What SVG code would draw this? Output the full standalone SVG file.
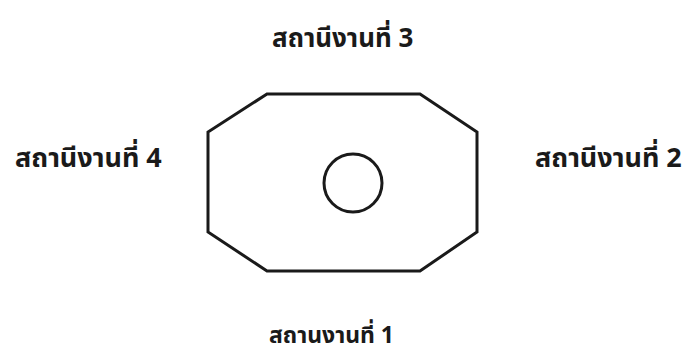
<svg xmlns="http://www.w3.org/2000/svg" width="691" height="354" viewBox="0 0 691 354">
<style>
.lbl{font-family:"Noto Sans Thai","Noto Sans","DejaVu Sans","Liberation Sans",sans-serif;font-size:26px;font-weight:bold;fill:#1a1a1a}
.side{font-size:27px}
.low{font-size:23px}
.shp{fill:none;stroke:#1a1a1a;stroke-width:3;stroke-linejoin:miter}
</style>
<rect width="691" height="354" fill="#ffffff"/>
<g id="station-3"><text class="lbl" x="272" y="47">สถานีงานที่ 3</text></g>
<g id="station-4"><text class="lbl side" x="15" y="167">สถานีงานที่ 4</text></g>
<g id="station-2"><text class="lbl side" x="535" y="167">สถานีงานที่ 2</text></g>
<g id="station-1"><text class="lbl low" x="269" y="343">สถานงานที่ 1</text></g>
<g id="machine">
<polygon class="shp" points="267,94 420,94 477,132 477,232 420,271 267,271 208,232 208,132"/>
<circle class="shp" cx="353" cy="183" r="29" stroke-width="2.5"/>
</g>
<g id="connectors"></g>
</svg>
